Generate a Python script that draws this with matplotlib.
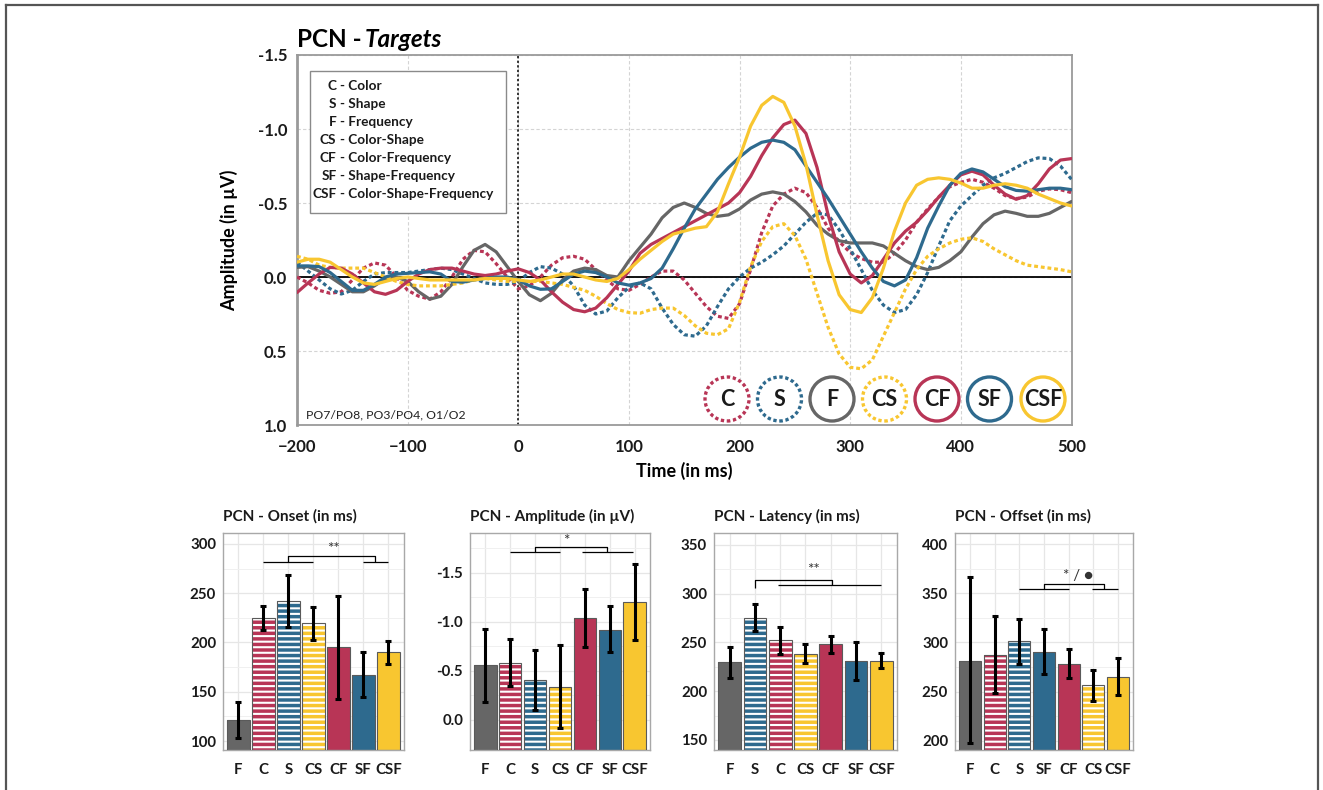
import numpy as np
import matplotlib
matplotlib.use("Agg")
import matplotlib.pyplot as plt
from matplotlib.patches import Rectangle, Ellipse
from matplotlib.lines import Line2D

plt.rcParams['font.family'] = ['Lato', 'DejaVu Sans']
plt.rcParams['hatch.linewidth'] = 1.5

# ---------------- data: ERP waveforms (µV, every 10 ms) ----------------
time_ms = list(range(-200, 501, 10))

wave_C = [0.0, 0.04, 0.09, 0.11, 0.10, 0.02, -0.06, -0.095, -0.08, 0.0,
          0.09, 0.13, 0.15, 0.10, 0.0, -0.12, -0.18, -0.17, -0.09, 0.0,
          0.08, 0.06, 0.0, -0.08, -0.13, -0.14, -0.12, -0.05, 0.02, 0.08,
          0.09, 0.05, 0.0, -0.04, -0.04, 0.02, 0.11, 0.20, 0.265, 0.28,
          0.18, -0.05, -0.30, -0.48, -0.56, -0.60, -0.57, -0.47, -0.33, -0.24,
          -0.165, -0.125, -0.10, -0.10, -0.16, -0.25, -0.37, -0.46, -0.54, -0.61,
          -0.64, -0.66, -0.64, -0.60, -0.55, -0.53, -0.54, -0.58, -0.595, -0.59, -0.57]
wave_S = [-0.10, -0.04, 0.02, 0.08, 0.115, 0.09, 0.03, -0.02, -0.03, -0.03,
          -0.03, -0.04, -0.05, -0.06, -0.05, -0.02, 0.01, 0.04, 0.05, 0.05,
          0.03, -0.03, -0.07, -0.06, -0.02, 0.06, 0.19, 0.25, 0.23, 0.14,
          0.07, 0.04, 0.08, 0.21, 0.32, 0.39, 0.40, 0.33, 0.20, 0.08,
          0.0, -0.06, -0.10, -0.15, -0.21, -0.29, -0.37, -0.43, -0.42, -0.32,
          -0.19, -0.05, 0.09, 0.19, 0.24, 0.22, 0.12, -0.03, -0.21, -0.38,
          -0.48, -0.55, -0.62, -0.67, -0.70, -0.74, -0.78, -0.805, -0.80, -0.75, -0.66]
wave_F = [-0.065, -0.07, -0.04, 0.0, 0.05, 0.10, 0.10, 0.06, 0.01, 0.0,
          0.03, 0.10, 0.15, 0.13, 0.05, -0.07, -0.18, -0.22, -0.17, -0.07,
          0.03, 0.12, 0.16, 0.11, 0.02, -0.04, -0.06, -0.05, -0.01, 0.0,
          -0.11, -0.20, -0.29, -0.40, -0.47, -0.50, -0.47, -0.43, -0.41, -0.42,
          -0.46, -0.52, -0.56, -0.575, -0.56, -0.51, -0.44, -0.35, -0.29, -0.245,
          -0.23, -0.23, -0.23, -0.21, -0.16, -0.11, -0.07, -0.05, -0.065, -0.11,
          -0.17, -0.27, -0.36, -0.42, -0.445, -0.43, -0.41, -0.41, -0.43, -0.47, -0.51]
wave_CS = [-0.14, -0.12, -0.08, -0.065, -0.06, -0.06, -0.06, -0.03, 0.0, 0.03,
           0.05, 0.06, 0.06, 0.06, 0.05, 0.04, 0.02, 0.01, 0.02, 0.03,
           0.03, 0.03, 0.03, 0.04, 0.05, 0.07, 0.09, 0.13, 0.18, 0.22,
           0.24, 0.245, 0.22, 0.21, 0.21, 0.26, 0.33, 0.38, 0.39, 0.35,
           0.17, -0.07, -0.24, -0.34, -0.36, -0.28, -0.12, 0.11, 0.34, 0.52,
           0.61, 0.62, 0.56, 0.40, 0.24, 0.08, -0.05, -0.14, -0.19, -0.23,
           -0.255, -0.265, -0.24, -0.19, -0.15, -0.11, -0.08, -0.07, -0.06, -0.05, -0.035]
wave_CF = [0.105, 0.04, -0.02, -0.065, -0.06, -0.02, 0.04, 0.10, 0.117, 0.09,
           0.03, -0.02, -0.05, -0.06, -0.06, -0.04, -0.02, -0.01, -0.02, -0.04,
           -0.055, -0.03, 0.02, 0.10, 0.17, 0.22, 0.235, 0.21, 0.14, 0.05,
           -0.04, -0.16, -0.22, -0.26, -0.30, -0.34, -0.38, -0.42, -0.46, -0.50,
           -0.57, -0.68, -0.82, -0.94, -1.03, -1.06, -0.97, -0.74, -0.42, -0.17,
           -0.02, 0.04, -0.01, -0.12, -0.23, -0.31, -0.37, -0.45, -0.54, -0.62,
           -0.69, -0.715, -0.69, -0.62, -0.56, -0.525, -0.55, -0.63, -0.73, -0.79, -0.80]
wave_SF = [-0.075, -0.075, -0.07, -0.03, 0.03, 0.09, 0.09, 0.05, 0.0, -0.02,
           -0.025, -0.03, -0.035, -0.02, 0.03, 0.035, 0.02, 0.01, 0.0, 0.0,
           0.02, 0.06, 0.083, 0.08, 0.03, -0.02, -0.04, -0.03, 0.0, 0.04,
           0.055, 0.04, 0.01, -0.06, -0.19, -0.33, -0.46, -0.56, -0.66, -0.74,
           -0.81, -0.87, -0.91, -0.925, -0.91, -0.86, -0.75, -0.64, -0.53, -0.41,
           -0.29, -0.17, -0.06, 0.03, 0.06, 0.02, -0.13, -0.33, -0.48, -0.62,
           -0.70, -0.73, -0.71, -0.66, -0.61, -0.585, -0.58, -0.59, -0.60, -0.60, -0.59]
wave_CSF = [-0.10, -0.12, -0.12, -0.10, -0.05, 0.0, 0.04, 0.05, 0.03, 0.01,
            0.0, 0.01, 0.02, 0.02, 0.02, 0.02, 0.02, 0.01, 0.01, 0.01,
            0.02, 0.03, 0.02, 0.0, -0.02, -0.02, 0.0, 0.02, 0.03, 0.01,
            -0.05, -0.12, -0.18, -0.24, -0.29, -0.31, -0.33, -0.34, -0.44, -0.63,
            -0.81, -1.02, -1.16, -1.22, -1.18, -1.02, -0.76, -0.42, -0.11, 0.12,
            0.22, 0.24, 0.14, -0.06, -0.31, -0.50, -0.62, -0.66, -0.67, -0.66,
            -0.635, -0.60, -0.60, -0.62, -0.63, -0.62, -0.60, -0.56, -0.53, -0.50, -0.48]

wave_order = ['C', 'S', 'F', 'CS', 'CF', 'SF', 'CSF']
waves = {'C': wave_C, 'S': wave_S, 'F': wave_F, 'CS': wave_CS,
         'CF': wave_CF, 'SF': wave_SF, 'CSF': wave_CSF}

legend_abbr = ['C', 'S', 'F', 'CS', 'CF', 'SF', 'CSF']
legend_names = ['Color', 'Shape', 'Frequency', 'Color-Shape', 'Color-Frequency',
                'Shape-Frequency', 'Color-Shape-Frequency']

# ---------------- data: bar panels ----------------
onset_labels = ['F', 'C', 'S', 'CS', 'CF', 'SF', 'CSF']
onset_mean = [121.5, 225, 242.5, 219.5, 195, 167.5, 190]
onset_low = [103.5, 213, 215.5, 203, 142.5, 145, 178.5]
onset_high = [139.5, 236.5, 268.5, 236, 247, 190.5, 202]

amp_labels = ['F', 'C', 'S', 'CS', 'CF', 'SF', 'CSF']
amp_mean = [-0.56, -0.58, -0.41, -0.34, -1.04, -0.92, -1.20]
amp_low = [-0.19, -0.34, -0.11, 0.08, -0.745, -0.68, -0.81]
amp_high = [-0.94, -0.815, -0.715, -0.76, -1.34, -1.15, -1.59]

lat_labels = ['F', 'S', 'C', 'CS', 'CF', 'SF', 'CSF']
lat_mean = [229.5, 275.5, 252.5, 238.5, 248, 231, 231.5]
lat_low = [214, 261.5, 238.5, 228.5, 239, 212, 223.5]
lat_high = [245, 289, 266, 248.5, 257, 250, 239.5]

off_labels = ['F', 'C', 'S', 'SF', 'CF', 'CS', 'CSF']
off_mean = [281.5, 287.5, 301, 290.5, 278.5, 256.5, 265]
off_low = [198, 248.5, 278.5, 268, 264, 240.5, 246.5]
off_high = [366.5, 327, 323.5, 313.5, 293, 271.5, 284]

# ---------------- styles ----------------
RED = '#B83556'
BLUE = '#2E6A8E'
GRAY = '#666666'
YEL = '#F8C630'
cond_color = {'C': RED, 'S': BLUE, 'F': GRAY, 'CS': YEL, 'CF': RED, 'SF': BLUE, 'CSF': YEL}
striped = {'C', 'S', 'CS'}

W, H = 1323, 790
fig = plt.figure(figsize=(W / 100, H / 100), dpi=100)


def fx(x):
    return x / W


def fy(y):
    return 1 - y / H


def fig_axes(l, t, r, b):
    return fig.add_axes([fx(l), fy(b), (r - l) / W, (b - t) / H])


# outer frame
fig.add_artist(Line2D([fx(6), fx(6)], [0, fy(5)], color='#555555', lw=1.6))
fig.add_artist(Line2D([fx(6), fx(1318)], [fy(5), fy(5)], color='#555555', lw=1.6))
fig.add_artist(Line2D([fx(1318), fx(1318)], [0, fy(5)], color='#555555', lw=1.6))

# ---------------- top ERP panel ----------------
ax = fig_axes(297, 55, 1071.5, 425)
ax.set_xlim(-200, 500)
ax.set_ylim(1.0, -1.5)
ax.set_xticks([-200, -100, 0, 100, 200, 300, 400, 500])
ax.set_yticks([-1.5, -1.0, -0.5, 0.0, 0.5, 1.0])
ax.set_yticklabels(['-1.5', '-1.0', '-0.5', '0.0', '0.5', '1.0'])
ax.tick_params(length=0, labelsize=12, pad=7, colors='#1a1a1a')
ax.tick_params(axis='x', pad=10)
for lab in ax.get_xticklabels() + ax.get_yticklabels():
    lab.set_fontweight('bold')
ax.grid(True, color='#d4d4d4', lw=0.8, ls=(0, (3, 2)))
ax.set_axisbelow(True)
for sp in ax.spines.values():
    sp.set_color('#9a9a9a')
    sp.set_linewidth(1.3)
ax.spines['left'].set_linewidth(2.0)
ax.axhline(0, color='black', lw=1.3, zorder=2)
ax.axvline(0, color='black', lw=1.1, ls=(0, (1.5, 1.5)), zorder=2)

dot = (0, (1.2, 0.9))
for key in wave_order:
    ls = dot if key in striped else '-'
    ax.plot(time_ms, waves[key], color=cond_color[key], lw=2.3, ls=ls, zorder=3,
            solid_capstyle='round', solid_joinstyle='round')

ax.set_xlabel('Time (in ms)', fontsize=13, fontweight='bold', labelpad=5)
ax.set_ylabel('Amplitude (in µV)', fontsize=13, fontweight='bold', labelpad=14)
ax.text(0.0, 1.012, 'PCN - ', transform=ax.transAxes, fontsize=17.5, fontweight='bold',
        ha='left', va='bottom')
ax.text(0.088, 1.012, 'Targets', transform=ax.transAxes, fontsize=17.5, fontweight='bold',
        fontstyle='italic', ha='left', va='bottom')
ax.text(0.011, 0.012, 'PO7/PO8, PO3/PO4, O1/O2', transform=ax.transAxes, fontsize=8.8,
        ha='left', va='bottom', color='#222222')

# legend box (text)
fig.add_artist(Rectangle((fx(310), fy(212.5)), (506 - 310) / W, (212.5 - 70.5) / H,
                         transform=fig.transFigure, fill=True, facecolor='white',
                         edgecolor='#8a8a8a', lw=1.0, zorder=5))
for i, (ab, nm) in enumerate(zip(legend_abbr, legend_names)):
    yy = 85.7 + i * 18.05
    fig.text(fx(336.5), fy(yy), ab, ha='right', va='center', fontsize=9.8,
             fontweight='bold', zorder=6, color='#1a1a1a')
    fig.text(fx(339.5), fy(yy), '- ' + nm, ha='left', va='center', fontsize=9.8,
             fontweight='bold', zorder=6, color='#1a1a1a')

# circle legend
circ_x = [727, 779.5, 832, 884.5, 937, 989.5, 1043]
for cx, key in zip(circ_x, legend_abbr):
    ls = (0, (1.0, 0.8)) if key in striped else '-'
    e = Ellipse((fx(cx), fy(399)), 44 / W, 44 / H, transform=fig.transFigure,
                facecolor='white', edgecolor=cond_color[key], lw=2.4, ls=ls, zorder=6)
    fig.add_artist(e)
    fig.text(fx(cx), fy(400), key, ha='center', va='center', fontsize=15.5,
             fontweight='bold', color='#1a1a1a', zorder=7)


# ---------------- bar panels ----------------
def bar_panel(box, labels, mean, low, high, ylim, yticks, yticklabels, title,
              brackets, star_text, star_pos, minor):
    a = fig_axes(*box)
    x = np.arange(len(labels))
    a.set_xlim(-0.62, len(labels) - 0.38)
    a.set_ylim(*ylim)
    a.set_yticks(yticks)
    a.set_yticklabels(yticklabels)
    a.set_yticks(minor, minor=True)
    a.set_xticks(x)
    a.set_xticklabels(labels)
    a.grid(True, which='major', color='#e6e6e6', lw=0.9)
    a.grid(True, which='minor', axis='y', color='#f0f0f0', lw=0.7)
    a.set_axisbelow(True)
    a.tick_params(which='both', length=0, labelsize=10.8, pad=5, colors='#1a1a1a')
    a.tick_params(axis='x', pad=9)
    for lab in a.get_xticklabels() + a.get_yticklabels():
        lab.set_fontweight('bold')
    for sp in a.spines.values():
        sp.set_color('#a8a8a8')
        sp.set_linewidth(1.0)
    base = ylim[0]
    for xi, lab, m in zip(x, labels, mean):
        c = cond_color[lab]
        if lab in striped:
            a.bar(xi, m - base, bottom=base, width=0.9, color=c, edgecolor='white',
                  hatch='---', lw=0, zorder=2)
        else:
            a.bar(xi, m - base, bottom=base, width=0.9, color=c, lw=0, zorder=2)
        a.bar(xi, m - base, bottom=base, width=0.9, fill=False, edgecolor='#5a5a5a',
              lw=0.8, zorder=3)
    yerr = [np.abs(np.array(mean) - np.array(low)), np.abs(np.array(high) - np.array(mean))]
    a.errorbar(x, mean, yerr=yerr, fmt='none', ecolor='black', elinewidth=2.2,
               capsize=2.5, capthick=2.2, zorder=4)
    for seg in brackets:
        a.plot(seg[0], seg[1], color='black', lw=0.9, zorder=5, solid_capstyle='butt')
    a.text(star_pos[0], star_pos[1], star_text, ha='center', va='center',
           fontsize=11, color='#333333', family=['Lato', 'DejaVu Sans'])
    a.set_title(title, loc='left', fontsize=11, fontweight='bold', pad=9,
                color='#1a1a1a')
    return a


# Onset
bar_panel((223, 533, 404, 750), onset_labels, onset_mean, onset_low, onset_high,
          (91, 311), [100, 150, 200, 250, 300], ['100', '150', '200', '250', '300'],
          'PCN - Onset (in ms)',
          [([1, 3], [282, 282]), ([5, 6], [282, 282]),
           ([2, 2, 5.47, 5.47], [282, 288, 288, 282])],
          '**', (3.8, 295), [125, 175, 225, 275])

# Amplitude (reversed)
bar_panel((470, 533, 650, 750), amp_labels, amp_mean, amp_low, amp_high,
          (0.306, -1.904), [0.0, -0.5, -1.0, -1.5], ['0.0', '-0.5', '-1.0', '-1.5'],
          'PCN - Amplitude (in µV)',
          [([1, 3], [-1.707, -1.707]), ([3.9, 5.95], [-1.707, -1.707]),
           ([2, 2, 4.9, 4.9], [-1.707, -1.762, -1.762, -1.707])],
          '*', (3.27, -1.82), [-0.25, -0.75, -1.25, -1.75])

# Latency
bar_panel((714, 533, 897, 750), lat_labels, lat_mean, lat_low, lat_high,
          (139.7, 362.3), [150, 200, 250, 300, 350], ['150', '200', '250', '300', '350'],
          'PCN - Latency (in ms)',
          [([1, 1, 4.03, 4.03], [306.3, 313.8, 313.8, 308.7]),
           ([1.9, 6.0], [308.7, 308.7])],
          '**', (3.33, 324), [175, 225, 275, 325])

# Offset
bar_panel((955, 533, 1133, 750), off_labels, off_mean, off_low, off_high,
          (190.6, 411.2), [200, 250, 300, 350, 400], ['200', '250', '300', '350', '400'],
          'PCN - Offset (in ms)',
          [([2, 4.03], [354.2, 354.2]), ([4.96, 6.03], [354.2, 354.2]),
           ([3.02, 3.02, 5.46, 5.46], [354.2, 359.7, 359.7, 354.2])],
          '* / ●', (4.4, 367.5), [225, 275, 325, 375])

fig.savefig('out.png', dpi=100)
